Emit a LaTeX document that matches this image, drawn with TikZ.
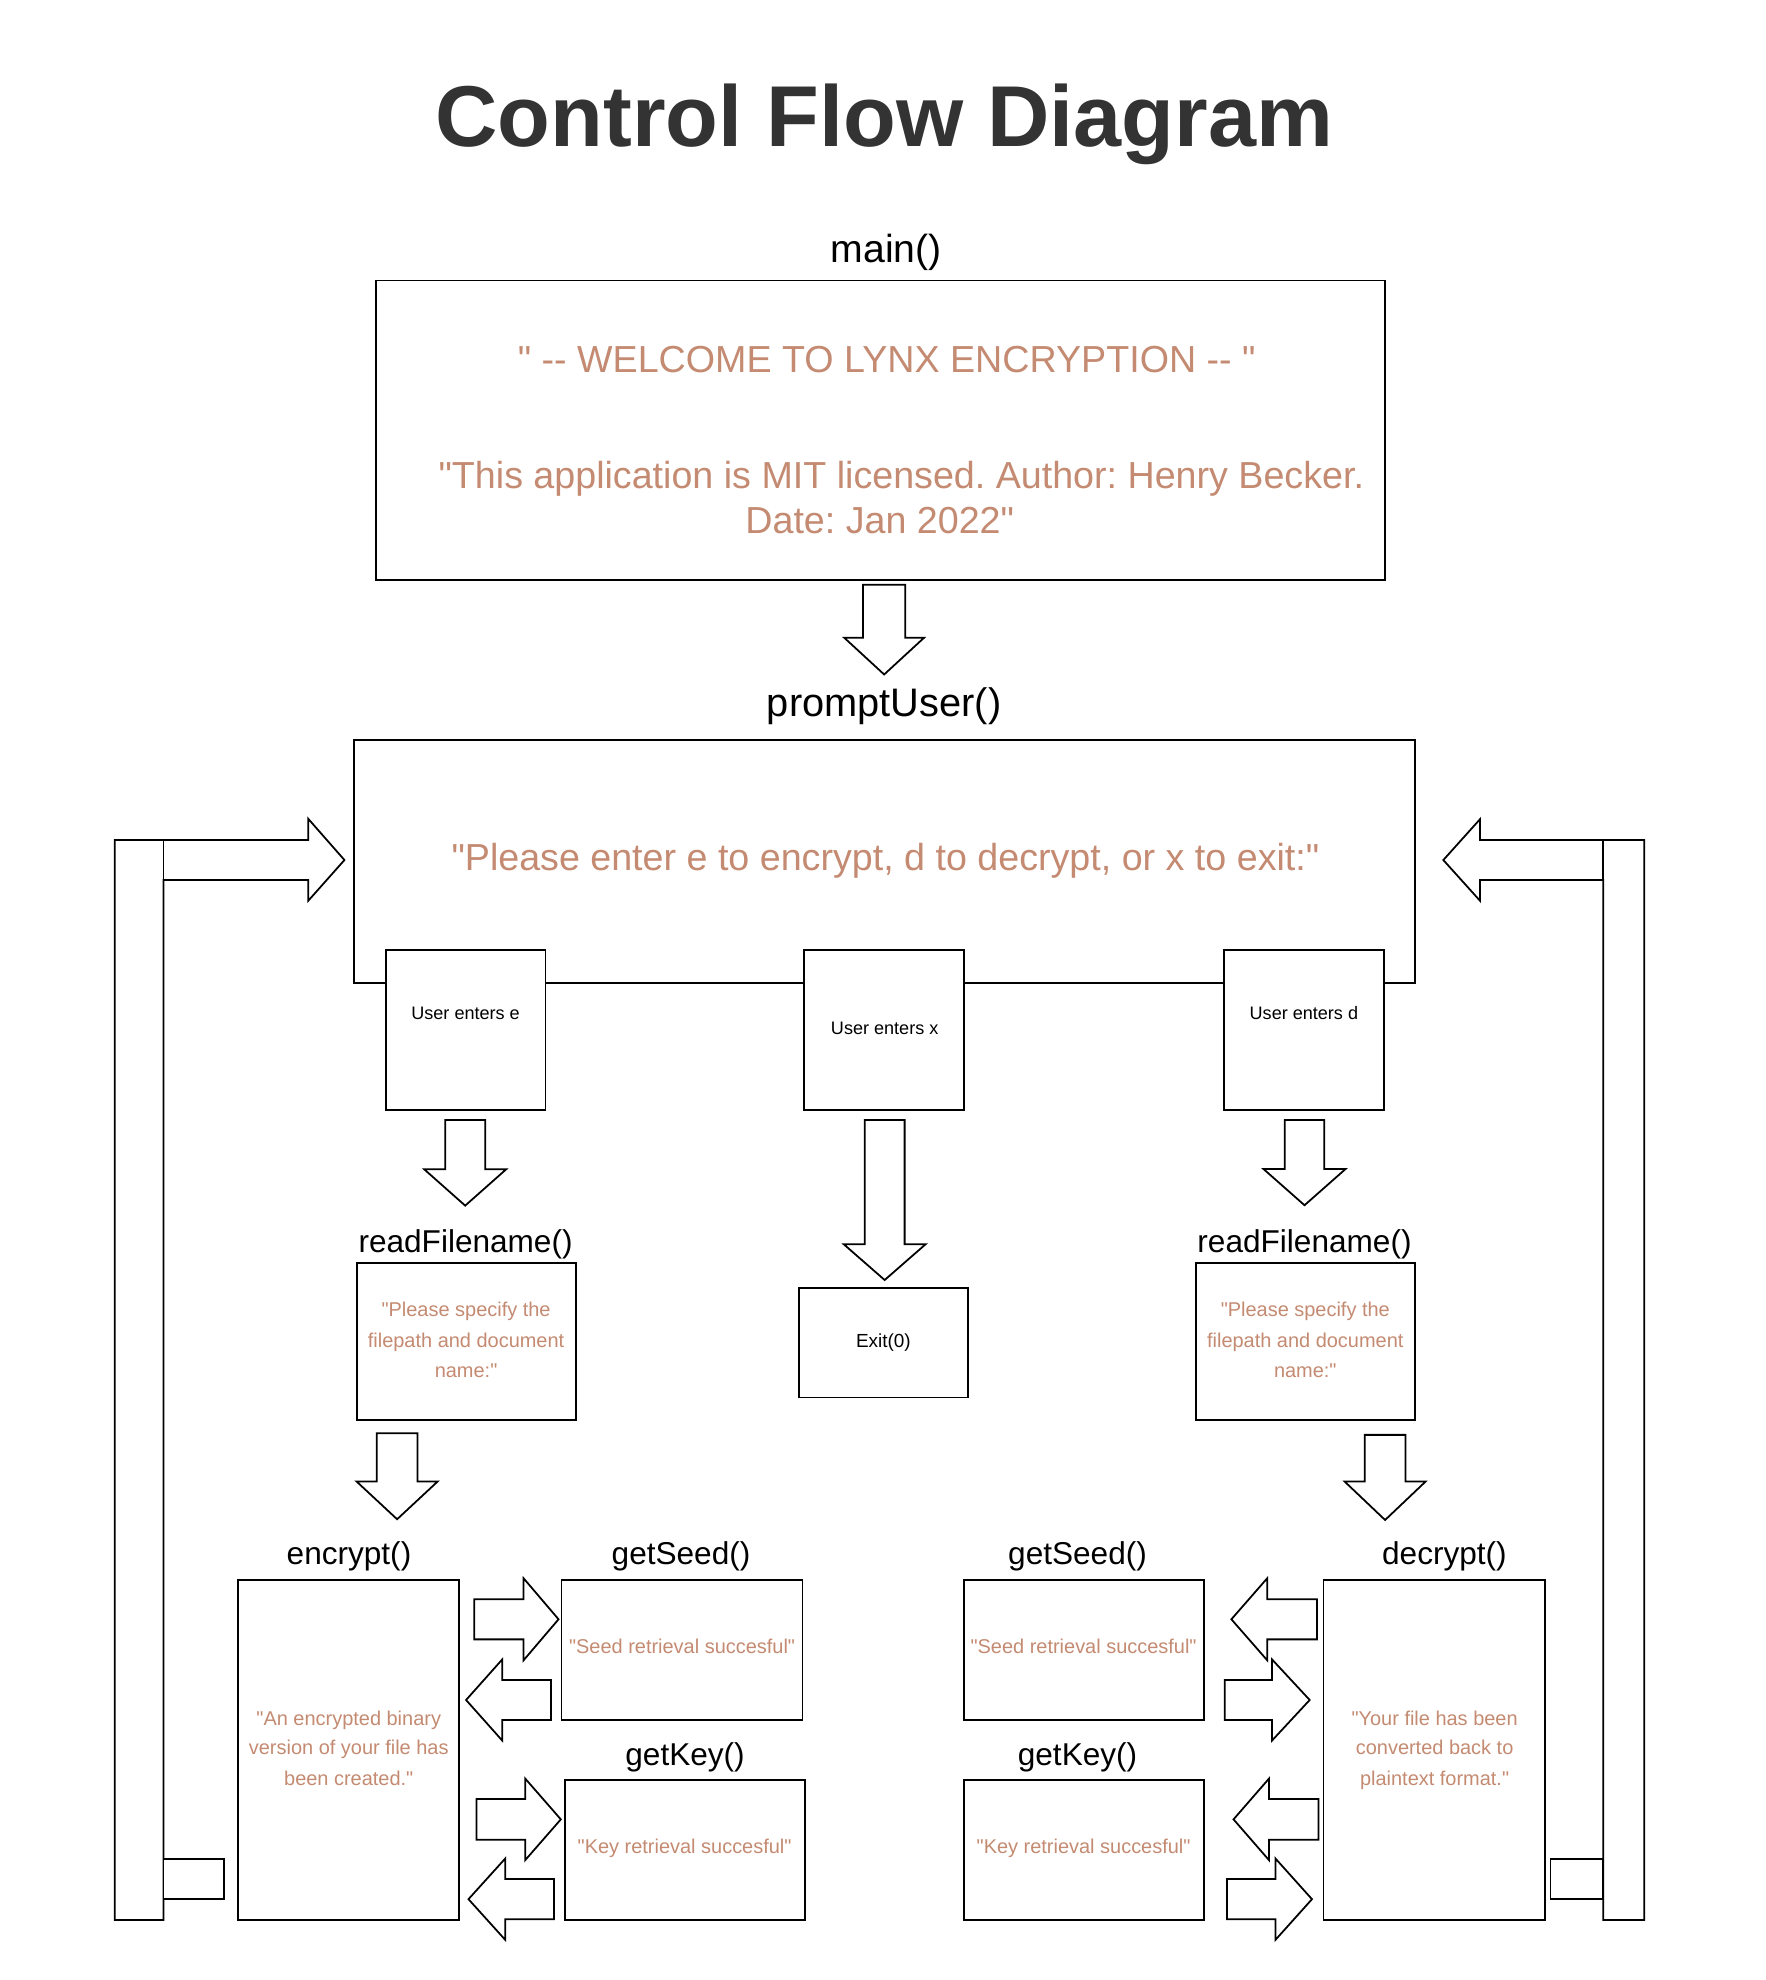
\documentclass[tikz,border=0pt]{standalone}
\usepackage{fontspec}
\setmainfont{Liberation Sans}[Ligatures=TeXOff]
\frenchspacing
\definecolor{quotec}{RGB}{196,139,114}
\definecolor{ttlc}{RGB}{51,51,51}
\newcommand\fsz[1]{\fontsize{#1}{#1}\selectfont}
\tikzset{
  box/.style={draw, line width=1.4pt, fill=white, inner sep=0pt, outer sep=0pt, anchor=north west},
  blk/.style={draw, line width=1.4pt, fill=white, line join=miter},
  lab/.style={anchor=base, inner sep=0pt, font=\fsz{25}},
  qt/.style={anchor=base, inner sep=0pt, text=quotec},
  big/.style={qt, font=\fsz{29.8}},
  small/.style={anchor=base, inner sep=0pt, font=\fsz{14.3}},
}
% box: name, x1, y1, x2, y2
\newcommand\mkbox[5]{\node[box, minimum width={#4-#2}, minimum height={#5-#3}] (#1) at (#2,#3) {};}
% down block arrow: cx, top, headbase, tip, shaft half width, head half width
\newcommand\downblk[6]{\draw[blk] (#1-#5,#2) -- (#1+#5,#2) -- (#1+#5,#3) -- (#1+#6,#3) -- (#1,#4) -- (#1-#6,#3) -- (#1-#5,#3) -- cycle;}
% side block arrow: tail x, headbase x, tip x, cy, shaft half height, head half height
\newcommand\sideblk[6]{\draw[blk] (#1,#4-#5) -- (#2,#4-#5) -- (#2,#4-#6) -- (#3,#4) -- (#2,#4+#6) -- (#2,#4+#5) -- (#1,#4+#5) -- cycle;}
\begin{document}
\begin{tikzpicture}[x=1pt,y=-1pt]
\fill[white] (0,0) rectangle (1398.1,1567.6);
\useasboundingbox (0,0) rectangle (1398.1,1567.6);

% title
\node[anchor=base, inner sep=0pt, text=ttlc, font=\fsz{68.4}\bfseries] (title) at (700,116) {Control Flow Diagram};

% main
\node[lab, font=\fsz{31}] (mainlab) at (701.7,207.5) {main()};
\mkbox{main}{297.7}{222}{1096.3}{459}
\node[big] (welcome) at (702,295) {" -- WELCOME TO LYNX ENCRYPTION -- "};
\node[big] (lic1) at (713.6,386.5) {"This application is MIT licensed. Author: Henry Becker.};
\node[big] (lic2) at (696.5,422) {Date: Jan 2022"};

\downblk{700}{463}{505}{534}{16.7}{31.5}

% promptUser
\node[lab, font=\fsz{31.5}] (promptlab) at (700,567.5) {promptUser()};
\mkbox{prompt}{280}{585.9}{1120.2}{778}
\node[big] (please) at (701,688.8) {"Please enter e to encrypt, d to decrypt, or x to exit:"};

% loops
\draw[blk] (90.9,665) -- (244,665) -- (244,648.2) -- (272.7,680.9) -- (244,713.2) -- (244,696.7) -- (129.5,696.7) -- (129.5,1520) -- (90.9,1520) -- cycle;
\draw[line width=1.4pt] (129.5,665) -- (129.5,696.7);
\mkbox{lret}{129.5}{1472}{177.3}{1503.6}
\draw[blk] (1301.8,665) -- (1171.7,665) -- (1171.7,648.6) -- (1142.7,680.9) -- (1171.7,713.1) -- (1171.7,696.7) -- (1269.3,696.7) -- (1269.3,1520) -- (1301.8,1520) -- cycle;
\draw[line width=1.4pt] (1269.3,665) -- (1269.3,696.7);
\mkbox{rret}{1227.6}{1472}{1269.3}{1503.6}

% user choices
\mkbox{ue}{305.3}{752}{431.9}{878.8}
\mkbox{ux}{636.8}{752}{763.4}{878.8}
\mkbox{ud}{969}{752}{1095.6}{878.8}
\node[small] (uet) at (368.6,807.5) {User enters e};
\node[small] (uxt) at (700.4,819.4) {User enters x};
\node[small] (udt) at (1032.3,807.5) {User enters d};

\downblk{368.3}{886.7}{925.7}{954.5}{15.8}{32.5}
\downblk{700.4}{886.7}{985}{1013.4}{15.8}{32.5}
\downblk{1032.8}{886.7}{925.5}{954.2}{15.6}{32.5}

% readFilename
\node[lab] (rfl) at (368.6,991.7) {readFilename()};
\mkbox{rfL}{282.5}{1000.2}{455.8}{1124.2}
\node[qt, font=\fsz{15.8}] (rfl1) at (369,1042.4) {"Please specify the};
\node[qt, font=\fsz{15.8}] (rfl2) at (369,1066.7) {filepath and document};
\node[qt, font=\fsz{15.8}] (rfl3) at (369,1090.4) {name:"};

\node[lab] (rfr) at (1032.8,991.7) {readFilename()};
\mkbox{rfR}{946.7}{1000.2}{1120}{1124.2}
\node[qt, font=\fsz{15.8}] (rfr1) at (1033.4,1042.4) {"Please specify the};
\node[qt, font=\fsz{15.8}] (rfr2) at (1033.4,1066.7) {filepath and document};
\node[qt, font=\fsz{15.8}] (rfr3) at (1033.4,1090.4) {name:"};

% exit
\mkbox{exit}{632.4}{1019.5}{766.3}{1106.5}
\node[small, font=\fsz{15}] (exitt) at (699.4,1066.7) {Exit(0)};

\downblk{314.4}{1134.8}{1173}{1202.8}{16.2}{32}
\downblk{1096.6}{1136}{1173}{1203.4}{16.1}{32}

% encrypt side
\node[lab] (encl) at (276.3,1239) {encrypt()};
\mkbox{enc}{188.2}{1251.2}{363.6}{1520}
\node[qt, font=\fsz{15.8}] (enc1) at (276.1,1365.7) {"An encrypted binary};
\node[qt, font=\fsz{15.8}] (enc2) at (276.1,1389.4) {version of your file has};
\node[qt, font=\fsz{15.8}] (enc3) at (276.1,1413.2) {been created."};

\node[lab] (gsl) at (539.2,1239) {getSeed()};
\mkbox{gsL}{444.5}{1251.2}{635.4}{1362}
\node[qt, font=\fsz{15.8}] (gslt) at (540,1309) {"Seed retrieval succesful"};
\node[lab] (gkl) at (542.4,1397.4) {getKey()};
\mkbox{gkL}{447.2}{1409.5}{637.6}{1520}
\node[qt, font=\fsz{15.8}] (gklt) at (542,1467.3) {"Key retrieval succesful"};

\sideblk{375.4}{414.5}{442.2}{1282}{15.9}{32.5}
\sideblk{436.3}{397.7}{369}{1345.9}{15.9}{32.2}
\sideblk{377.2}{415.9}{444}{1440.4}{16.1}{32.2}
\sideblk{438.6}{400}{370.9}{1503.6}{15.9}{32.2}

% decrypt side
\node[lab] (decl) at (1143.6,1239) {decrypt()};
\mkbox{dec}{1047.9}{1251.2}{1223.2}{1520}
\node[qt, font=\fsz{15.8}] (dec1) at (1135.8,1365.7) {"Your file has been};
\node[qt, font=\fsz{15.8}] (dec2) at (1135.8,1389.4) {converted back to};
\node[qt, font=\fsz{15.8}] (dec3) at (1135.8,1413.2) {plaintext format."};

\node[lab] (gsr) at (853.1,1239) {getSeed()};
\mkbox{gsR}{763.2}{1251.2}{953}{1362}
\node[qt, font=\fsz{15.8}] (gsrt) at (857.9,1309) {"Seed retrieval succesful"};
\node[lab] (gkr) at (853.1,1397.4) {getKey()};
\mkbox{gkR}{763.2}{1409.5}{953}{1520}
\node[qt, font=\fsz{15.8}] (gkrt) at (857.9,1467.3) {"Key retrieval succesful"};

\sideblk{1042.6}{1003.3}{974.9}{1282}{15.9}{32.5}
\sideblk{969.6}{1007}{1036.9}{1345.9}{15.9}{32.2}
\sideblk{1043.9}{1004.6}{976.6}{1440.4}{16.1}{32.2}
\sideblk{971.4}{1009.8}{1038.7}{1503.6}{15.9}{32.2}
\end{tikzpicture}
\end{document}
